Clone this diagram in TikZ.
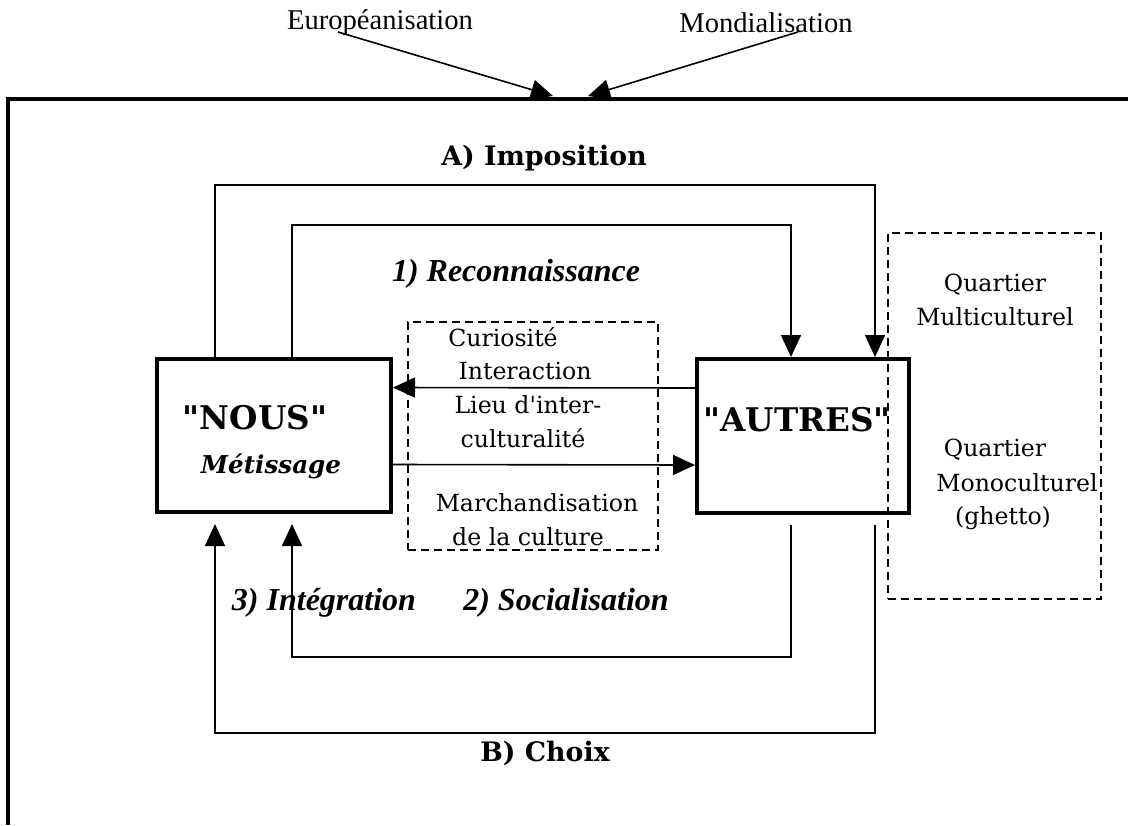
\documentclass[tikz,border=0pt]{standalone}
\usepackage{fontspec}
\setmainfont{DejaVu Serif}[Ligatures=TeXOff]
\newfontfamily\timesfont{Liberation Serif}
\usetikzlibrary{arrows.meta}

% straight quotes
\newcommand{\dq}{\symbol{34}}
\newcommand{\sq}{\symbol{39}}

\tikzset{
  flow/.style={line width=0.8pt, -{Triangle[length=11pt,width=10pt]}},
  bigbox/.style={draw, line width=2pt, inner sep=0pt},
  dashbox/.style={draw, line width=0.8pt, dash pattern=on 4pt off 2.5pt, inner sep=0pt},
  txt/.style={inner sep=0pt, font=\fontsize{11.8}{14}\selectfont},
  toplabel/.style={inner sep=0pt, font=\timesfont\fontsize{14.3}{17}\selectfont},
  title/.style={inner sep=0pt, font=\fontsize{13.4}{16}\selectfont\bfseries},
  phase/.style={inner sep=0pt, font=\timesfont\fontsize{16}{19}\selectfont\bfseries\itshape},
  group/.style={inner sep=0pt, font=\fontsize{16.3}{19}\selectfont\bfseries}
}

\begin{document}
\begin{tikzpicture}[x=0.5pt,y=-0.5pt]
    \useasboundingbox (0,0) rectangle (1128,825);
    %frame
    \draw[line width=1.7pt] (1128,99) -| (8,825);
    %influences
    \node[toplabel] (euro) at (380,23) {Européanisation};
    \node[toplabel] (mondial) at (766,23) {Mondialisation};
    \coordinate (eurotail) at (338,32);
    \coordinate (eurotip) at (553,96);
    \coordinate (mondtail) at (798,32);
    \coordinate (mondtip) at (588,96);
    \draw[flow] (eurotail) -- (eurotip);
    \draw[flow] (mondtail) -- (mondtip);
    %boxes
    \node[bigbox, minimum width=117pt, minimum height=76.5pt] (nous) at (274,435.5) {};
    \node[bigbox, minimum width=106pt, minimum height=77pt] (autres) at (803,436) {};
    \node[dashbox, minimum width=125pt, minimum height=114pt] (lieu) at (533,436) {};
    \node[dashbox, minimum width=106.5pt, minimum height=183pt] (quartiers) at (994.5,416) {};
    \node[group] (noustxt) at (255,418) {\dq NOUS\dq};
    \node[inner sep=0pt, font=\fontsize{12.3}{15}\selectfont\bfseries\itshape] (metis) at (271,466) {Métissage};
    \node[group] (autrestxt) at (797,420) {\dq AUTRES\dq};
    %exchanges
    \draw[flow] ([yshift=24pt]autres.west) -- ([yshift=24pt]nous.east);
    \draw[flow] ([yshift=-14.5pt]nous.east) -- ([yshift=-14.5pt]autres.west);
    %loops
    \coordinate (imptop) at (545,185);
    \coordinate (recotop) at (545,225);
    \coordinate (socbot) at (545,657);
    \coordinate (choixbot) at (545,733);
    \draw[flow] ([xshift=30pt]nous.north west) |- (imptop) -| ([xshift=-18pt]autres.north east);
    \draw[flow] ([xshift=68.5pt]nous.north west) |- (recotop) -| ([xshift=48pt]autres.north west);
    \draw[flow] ([xshift=48pt,yshift=-5pt]autres.south west) |- (socbot) -| ([xshift=68.5pt,yshift=-5pt]nous.south west);
    \draw[flow] ([xshift=-18pt,yshift=-5pt]autres.south east) |- (choixbot) -| ([xshift=30pt,yshift=-5pt]nous.south west);
    %labels
    \node[title] (imposition) at (544,158) {A) Imposition};
    \node[title] (choix) at (545,753) {B) Choix};
    \node[phase] (reco) at (516,274) {1) Reconnaissance};
    \node[phase] (integ) at (324,603) {3) Intégration};
    \node[phase] (social) at (566,603) {2) Socialisation};
    \node[txt] (curio) at (503,337) {Curiosité};
    \node[txt] (inter) at (525,371) {Interaction};
    \node[txt] (lieu1) at (528,405) {Lieu d\sq inter-};
    \node[txt] (lieu2) at (523,438) {culturalité};
    \node[txt] (march1) at (537,503) {Marchandisation};
    \node[txt] (march2) at (528,537) {de la culture};
    \node[txt] (multi1) at (995,285) {Quartier};
    \node[txt] (multi2) at (995,317) {Multiculturel};
    \node[txt] (mono1) at (995,450) {Quartier};
    \node[txt] (mono2) at (1017,483) {Monoculturel};
    \node[txt] (mono3) at (1003,518) {(ghetto)};
\end{tikzpicture}
\end{document}
